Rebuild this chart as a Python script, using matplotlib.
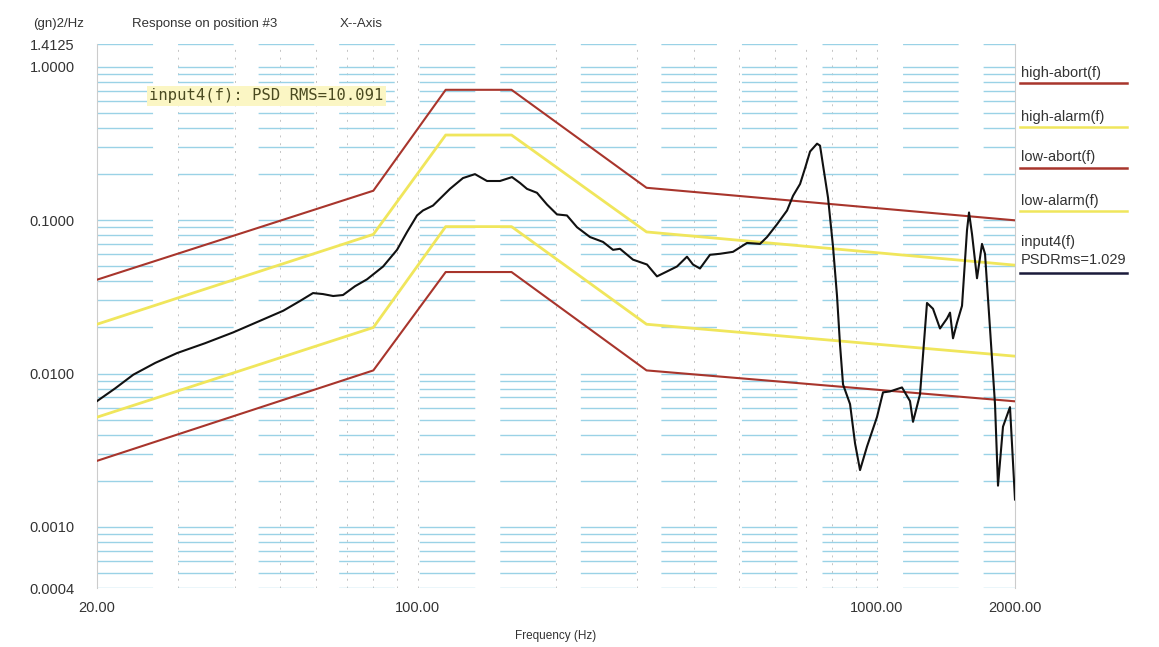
import matplotlib
matplotlib.use("Agg")
import matplotlib.pyplot as plt
from matplotlib.ticker import LogLocator, NullFormatter, FixedLocator
from matplotlib.lines import Line2D

plt.rcParams['font.family'] = ['Liberation Sans', 'DejaVu Sans']

# limit profiles (breakpoints)
lim_freq = [20, 80, 115, 160, 315, 2000]
high_abort = [0.041, 0.156, 0.71, 0.71, 0.163, 0.10]
high_alarm = [0.021, 0.081, 0.36, 0.36, 0.084, 0.051]
low_alarm = [0.0052, 0.020, 0.091, 0.091, 0.021, 0.0130]
low_abort = [0.0027, 0.0105, 0.046, 0.046, 0.0105, 0.0066]

# measured response input4(f)
resp_freq = [20.0, 21.9, 24.0, 26.8, 29.9, 34.4, 39.6, 44.9, 50.9, 55.4,
             59.1, 62.1, 65.4, 68.7, 73.0, 77.5, 84.0, 90.1, 94.7, 99.6,
             102.6, 107.9, 117.5, 125.4, 133.2, 141.5, 151.0, 160.4, 167.0, 172.9,
             181.8, 191.2, 201.0, 211.3, 222.2, 237.2, 253.2, 266.2, 275.7, 294.3,
             315.7, 331.9, 349.0, 367.0, 385.8, 397.6, 411.8, 433.0, 455.3, 486.0,
             521.4, 556.6, 576.5, 606.2, 637.4, 656.9, 680.4, 697.6, 715.4, 740.9,
             752.1, 763.5, 782.9, 802.8, 819.0, 831.5, 844.1, 874.3, 896.5, 919.2,
             952.0, 1000.9, 1031.5, 1068.4, 1134.6, 1181.1, 1199.0, 1241.9, 1286.2, 1325.5,
             1372.9, 1422.0, 1443.6, 1465.5, 1495.2, 1533.2, 1572.1, 1588.0, 1612.1, 1652.9,
             1694.9, 1720.6, 1764.3, 1809.1, 1836.5, 1883.1, 1950.4, 2000.0]
resp_psd = [0.00662, 0.00801, 0.00985, 0.01176, 0.01363, 0.01580, 0.01858, 0.02186, 0.02572, 0.02981,
            0.03354, 0.03305, 0.03209, 0.03257, 0.03720, 0.04123, 0.04996, 0.06423, 0.08376, 0.1076,
            0.1159, 0.1248, 0.1604, 0.1886, 0.2001, 0.1805, 0.1805, 0.1914, 0.1752, 0.1604,
            0.1512, 0.1267, 0.1093, 0.1076, 0.0902, 0.0778, 0.0723, 0.0642, 0.0652, 0.0554,
            0.0515, 0.0431, 0.0464, 0.0500, 0.0579, 0.0515, 0.0485, 0.0596, 0.0605, 0.0623,
            0.0712, 0.0702, 0.0778, 0.0943, 0.1159, 0.1446, 0.1726, 0.2186, 0.2811, 0.3162,
            0.3070, 0.2286, 0.1404, 0.0671, 0.0321, 0.01534, 0.00850, 0.00633, 0.00351, 0.00235,
            0.00335, 0.00522, 0.00755, 0.00766, 0.00813, 0.00662, 0.00485, 0.00733, 0.0289, 0.0265,
            0.0197, 0.0229, 0.0250, 0.0170, 0.0215, 0.0277, 0.0863, 0.1125, 0.0813, 0.0419,
            0.0702, 0.0605, 0.0197, 0.00633, 0.00186, 0.00451, 0.00605, 0.00151]

y_ticks = [1.4125, 1.0, 0.1, 0.01, 0.001, 0.0004]
x_ticks = [20, 100, 1000, 2000]

RED = '#a8352c'
YELLOW = '#f0e65c'
GRID_BLUE = '#9ad2e6'
TXT = '#333333'

fig = plt.figure(figsize=(11.59, 6.47), dpi=100)
ax = fig.add_axes([97 / 1159, 1 - 588 / 647, 918 / 1159, 544 / 647])
ax.set_xscale('log')
ax.set_yscale('log')
ax.set_xlim(20, 2000)
ax.set_ylim(0.0004, 1.4125)

ax.plot(lim_freq, high_alarm, color=YELLOW, lw=2.0, zorder=3)
ax.plot(lim_freq, low_alarm, color=YELLOW, lw=2.0, zorder=3)
ax.plot(lim_freq, high_abort, color=RED, lw=1.5, zorder=4)
ax.plot(lim_freq, low_abort, color=RED, lw=1.5, zorder=4)
ax.plot(resp_freq, resp_psd, color='#111111', lw=1.5, zorder=5)

# ticks and grid
ax.yaxis.set_major_locator(FixedLocator(y_ticks))
ax.set_yticklabels([f'{v:.4f}' for v in y_ticks])
ax.yaxis.set_minor_locator(LogLocator(base=10, subs=range(1, 10), numticks=20))
ax.yaxis.set_minor_formatter(NullFormatter())
ax.xaxis.set_major_locator(FixedLocator(x_ticks))
ax.set_xticklabels([f'{v:.2f}' for v in x_ticks])
ax.xaxis.set_minor_locator(LogLocator(base=10, subs=range(1, 10), numticks=20))
ax.xaxis.set_minor_formatter(NullFormatter())
ax.tick_params(which='both', length=0, labelsize=10.5, colors=TXT)
ax.tick_params(axis='x', pad=9)
ax.tick_params(axis='y', pad=16)

ax.grid(axis='y', which='both', color=GRID_BLUE, lw=1.0, linestyle=(0, (40, 18)), zorder=1)
ax.grid(axis='x', which='both', color='#c4c4c4', lw=0.7, linestyle=(0, (2, 6)), zorder=1)
for side in ['top', 'bottom']:
    ax.spines[side].set_visible(False)
for side in ['left', 'right']:
    ax.spines[side].set_color('#cccccc')
    ax.spines[side].set_linewidth(0.8)

ax.set_xlabel('Frequency (Hz)', fontsize=8.5, color=TXT, labelpad=11)

# header texts
fig.text(33 / 1159, 1 - 24 / 647, '(gn)2/Hz', fontsize=9.5, color=TXT, va='center')
fig.text(132 / 1159, 1 - 24 / 647, 'Response on position #3', fontsize=9.5, color=TXT, va='center')
fig.text(340 / 1159, 1 - 24 / 647, 'X--Axis', fontsize=9.5, color=TXT, va='center')

# RMS annotation
ax.text(0.057, 0.905, 'input4(f): PSD RMS=10.091', transform=ax.transAxes,
        family='DejaVu Sans Mono', fontsize=11.2, color='#4a4a20', va='center', ha='left',
        bbox=dict(boxstyle='square,pad=0.15', fc='#fbf6c4', ec='none'), zorder=6)

# legend at right, label with coloured underline
legend_items = [
    ('high-abort(f)', RED, 73, 83),
    ('high-alarm(f)', YELLOW, 117, 127),
    ('low-abort(f)', RED, 157, 168),
    ('low-alarm(f)', YELLOW, 201, 211),
    ('input4(f)\nPSDRms=1.029', '#1a1a3a', 251, 273),
]
for label, col, ypix, yline in legend_items:
    fig.text(1021 / 1159, 1 - ypix / 647, label, fontsize=10.5, color=TXT,
             va='center', ha='left', linespacing=1.45)
    fig.add_artist(Line2D([1020 / 1159, 1127 / 1159], [1 - yline / 647, 1 - yline / 647],
                          color=col, lw=1.8, transform=fig.transFigure))

fig.savefig('out.png', dpi=100, facecolor='white')
